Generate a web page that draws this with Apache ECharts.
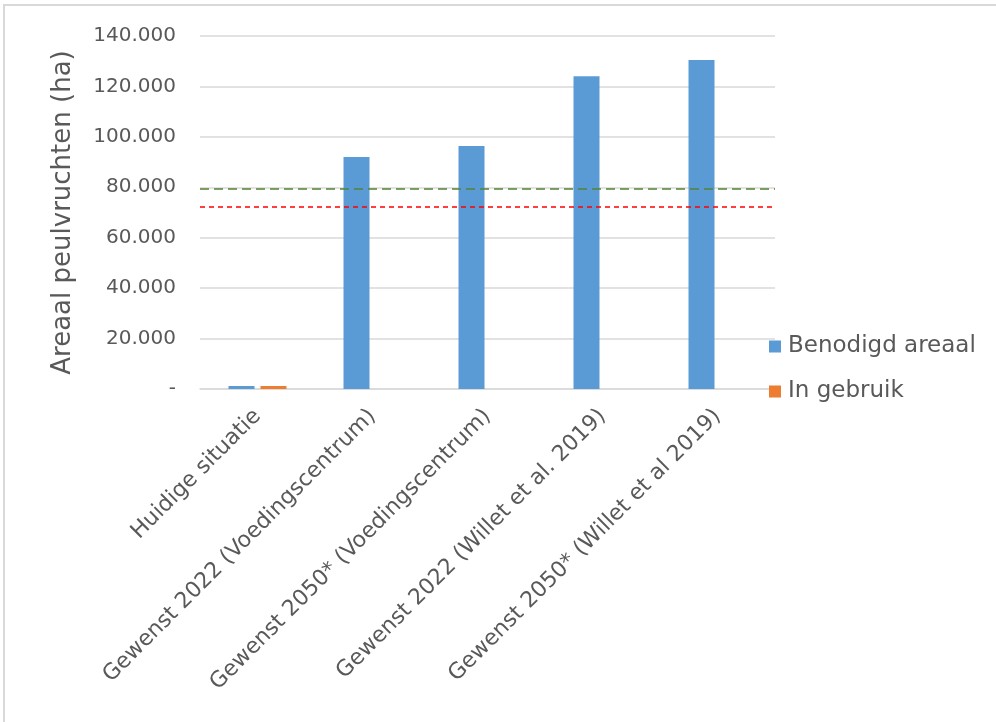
<!DOCTYPE html>
<html>
<head>
<meta charset="utf-8">
<script src="https://cdn.jsdelivr.net/npm/echarts@6/dist/echarts.min.js"></script>
<style>
html,body{margin:0;padding:0;background:#fff;}
#chart{width:996px;height:722px;}
</style>
</head>
<body>
<div id="chart"></div>
<script>
const categories = [
  "Huidige situatie",
  "Gewenst 2022 (Voedingscentrum)",
  "Gewenst 2050* (Voedingscentrum)",
  "Gewenst 2022 (Willet et al. 2019)",
  "Gewenst 2050* (Willet et al 2019)"
];
const benodigd = [1200, 92000, 96400, 124000, 130500];
const inGebruik = [1200, null, null, null, null];
const greenLineValue = 79400;
const redLineValue = 72200;
const yTicks = { min: 0, max: 140000, interval: 20000 };

const FONT = "DejaVu Sans";
const TXT = "#595959";
const chart = echarts.init(document.getElementById('chart'), null, {renderer: 'canvas'});

function fmt(v) {
  if (v === 0) return "-";
  return String(v).replace(/\B(?=(\d{3})+(?!\d))/g, ".");
}

chart.setOption({
  backgroundColor: '#fff',
  animation: false,
  textStyle: { fontFamily: FONT, color: TXT },
  graphic: [{
    type: 'rect', silent: true, z: -1,
    shape: { x: 4, y: 5, width: 1200, height: 1000 },
    style: { fill: 'none', stroke: '#d9d9d9', lineWidth: 2 }
  }],
  grid: { left: 200, right: 221, top: 36, bottom: 333, containLabel: false },
  legend: {
    orient: 'vertical',
    left: 764, top: 330,
    itemWidth: 12, itemHeight: 12, itemGap: 22,
    icon: 'rect',
    textStyle: { fontFamily: FONT, fontSize: 23, color: TXT, padding: [0,0,0,2] },
    data: ['Benodigd areaal', 'In gebruik']
  },
  xAxis: {
    type: 'category',
    data: categories,
    axisLine: { show: true, lineStyle: { color: '#d9d9d9', width: 1.5 } },
    axisTick: { show: false },
    axisLabel: { rotate: 45, fontFamily: FONT, fontSize: 22, color: TXT, margin: 24, interval: 0 }
  },
  yAxis: {
    type: 'value',
    min: yTicks.min, max: yTicks.max, interval: yTicks.interval,
    name: 'Areaal peulvruchten (ha)',
    nameLocation: 'middle',
    nameGap: 124,
    nameTextStyle: { fontFamily: FONT, fontSize: 26, color: TXT },
    axisLine: { show: false },
    axisTick: { show: false },
    splitLine: { lineStyle: { color: '#d9d9d9', width: 1.5 } },
    axisLabel: { fontFamily: FONT, fontSize: 20, color: TXT, margin: 24, formatter: fmt }
  },
  series: [
    {
      name: 'Benodigd areaal', type: 'bar', data: benodigd,
      barWidth: 26, barGap: '23%',
      itemStyle: { color: '#5B9BD5' },
      markLine: {
        silent: true, symbol: 'none', label: { show: false },
        data: [
          { yAxis: greenLineValue, lineStyle: { color: '#548235', type: [9, 5], width: 1.5 } },
          { yAxis: redLineValue, lineStyle: { color: '#FF0000', type: [5, 4], width: 1.5 } }
        ]
      }
    },
    {
      name: 'In gebruik', type: 'bar', data: inGebruik,
      barWidth: 26,
      itemStyle: { color: '#ED7D31' }
    }
  ]
});
</script>
</body>
</html>
